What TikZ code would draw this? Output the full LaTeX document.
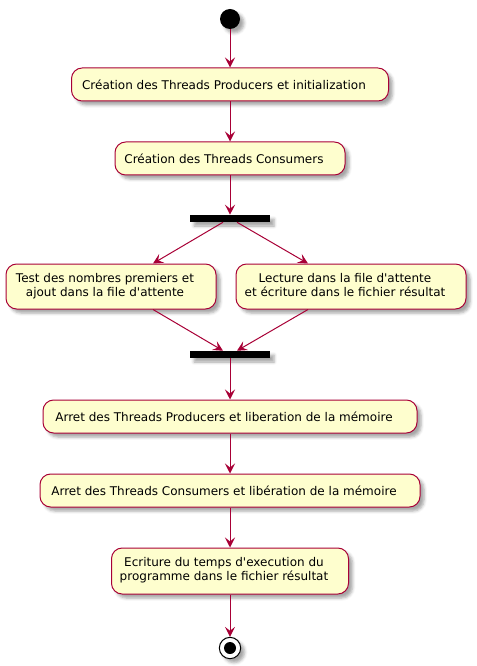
\documentclass[tikz,border=0pt]{standalone}
\usepackage{fontspec}
\setmainfont{DejaVu Sans}
\usetikzlibrary{arrows.meta,shadows.blur}
\definecolor{umlfill}{HTML}{FEFECE}
\definecolor{umlline}{HTML}{A80036}
\newcommand{\twolines}[2]{\begin{tabular}{@{}c@{}}#1\\#2\end{tabular}}
\tikzset{
  umlshadow/.style={blur shadow={shadow xshift=3pt, shadow yshift=-3pt, shadow blur steps=4, shadow opacity=35}},
  activity/.style={draw=umlline, fill=umlfill, line width=0.75pt, rounded corners=8pt,
    inner sep=0pt, font=\fontsize{9}{10.5}\selectfont, umlshadow,
    execute at end node={\hspace*{9pt}}},
  syncbar/.style={fill=black, minimum width=60pt, minimum height=5.25pt, inner sep=0pt, umlshadow},
  flow/.style={umlline, line width=0.75pt, -{Stealth[length=7.5pt, width=7.5pt, inset=3pt]}},
}
\begin{document}
\begin{tikzpicture}[x=0.75pt, y=-0.75pt]
\useasboundingbox (0,0) rectangle (476,666);
% start
\node[circle, fill=black, minimum size=15pt, inner sep=0pt, umlshadow] (start) at (230,19) {};
% activities
\node[activity, minimum width=237.75pt, minimum height=24.75pt] (prodinit) at (230,84.5) {Création des Threads Producers et initialization};
\node[activity, minimum width=172.5pt, minimum height=24.75pt] (consinit) at (230,158.5) {Création des Threads Consumers};
\node[syncbar] (fork) at (230,218.5) {};
\node[activity, minimum width=157.5pt, minimum height=33.75pt] (produce) at (111,286.5) {\twolines{Test des nombres premiers et}{ajout dans la file d\textquotesingle attente}};
\node[activity, minimum width=172.5pt, minimum height=33.75pt] (consume) at (351,286.5) {\twolines{Lecture dans la file d\textquotesingle attente}{et écriture dans le fichier résultat}};
\node[syncbar] (join) at (230,354.5) {};
\node[activity, minimum width=280.5pt, minimum height=24.75pt] (prodstop) at (230,416.5) {Arret des Threads Producers et liberation de la mémoire};
\node[activity, minimum width=285pt, minimum height=24.75pt] (consstop) at (230,490.5) {Arret des Threads Consumers et libération de la mémoire};
\node[activity, minimum width=177.75pt, minimum height=34.5pt] (timing) at (230,571) {\twolines{Ecriture du temps d\textquotesingle execution du}{programme dans le fichier résultat}};
% end
\node[circle, draw=black, fill=white, line width=0.75pt, minimum size=16pt, inner sep=0pt, umlshadow] (stop) at (230,648) {};
\node[circle, fill=black, minimum size=9pt, inner sep=0pt] (stopdot) at (stop) {};
% flows
\draw[flow] (start) -- (prodinit);
\draw[flow] (prodinit) -- (consinit);
\draw[flow] (consinit) -- (fork);
\draw[flow] ([xshift=-5.25pt]fork.south) -- ([xshift=31.5pt]produce.north);
\draw[flow] ([xshift=5.25pt]fork.south) -- ([xshift=-32.25pt]consume.north);
\draw[flow] ([xshift=31.5pt]produce.south) -- ([xshift=-5.25pt]join.north);
\draw[flow] ([xshift=-32.25pt]consume.south) -- ([xshift=5.25pt]join.north);
\draw[flow] (join) -- (prodstop);
\draw[flow] (prodstop) -- (consstop);
\draw[flow] (consstop) -- (timing);
\draw[flow] (timing) -- (stop);
\end{tikzpicture}
\end{document}
